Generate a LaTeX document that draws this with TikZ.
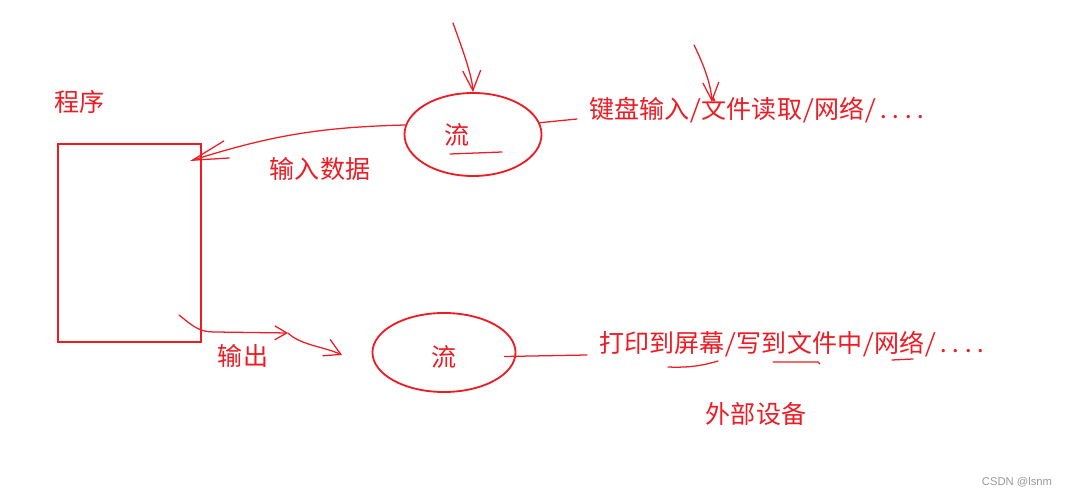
\documentclass[tikz,border=0pt]{standalone}
\usepackage{fontspec}
\newfontfamily\cjk[CharacterWidth=Half]{Noto Sans CJK SC}
\newfontfamily\markfont{Liberation Sans}
\usetikzlibrary{arrows.meta, positioning, shapes.geometric, calc}
\definecolor{pen}{RGB}{237,28,36}

\begin{document}
\begin{tikzpicture}[x=0.025cm, y=-0.025cm,
	% node styles
	box/.style={
		rectangle,
		draw=pen,
		line width=1.4pt,
		minimum width=3.575cm,
		minimum height=4.95cm,
		inner sep=0pt
	},
	flow/.style={
		ellipse,
		draw=pen,
		line width=1.3pt,
		inner sep=0pt
	},
	txt/.style={
		text=pen,
		font=\cjk\fontsize{17.8}{20}\selectfont,
		inner sep=0pt
	},
	% hand drawn lines
	hand/.style={
		draw=pen,
		line width=0.9pt,
		line cap=round
	}
	]
	\useasboundingbox (0,0) rectangle (1067,497);

	% program and streams
	\node[txt] (title) at (80,102) {程序};
	\node[box] (program) at (129.5,243) {};
	\node[flow, minimum width=3.425cm, minimum height=2.075cm] (inflow) at (473,134.5) {};
	\node[txt] (inchar) at (457,135) {流};
	\node[flow, minimum width=3.575cm, minimum height=1.975cm] (outflow) at (444,352.5) {};
	\node[txt] (outchar) at (444,357) {流};

	% labels
	\node[txt, anchor=west] (srcs) at (589,110) {键盘输入/文件读取/网络/....};
	\node[txt] (inlabel) at (320,169) {输入数据};
	\node[txt] (outlabel) at (243,356) {输出};
	\node[txt, anchor=west] (dests) at (599,344) {打印到屏幕/写到文件中/网络/....};
	\node[txt] (devices) at (756,414) {外部设备};
	\node[text=black!40, font=\markfont\fontsize{8}{9}\selectfont] (mark) at (1017,482) {CSDN @lsnm};

	% free ends
	\coordinate (inport) at (190,161);
	\coordinate (drop) at (453,23);
	\coordinate (srcdrop) at (694,45);
	\coordinate (srcmark) at (712,102);
	\coordinate (outport) at (179,315);
	\coordinate (outmid) at (288,333);
	\coordinate (outtip) at (342,355);

	% input side
	\draw[hand, -{Straight Barb[length=9mm, width=4.5mm]}] (inflow.172) to[bend right=8] (inport);
	\draw[hand] (inflow.10) -- ($(srcs.west)+(-12,9)$);
	\draw[hand, -{Straight Barb[length=5mm, width=4.5mm]}] (drop) .. controls (462,48) and (472,75) .. (inflow.north);
	\draw[hand, -{Straight Barb[length=4.5mm, width=4mm]}] (srcdrop) .. controls (704,65) and (711,85) .. (srcmark);

	% output side
	\draw[hand, -{Straight Barb[length=3mm, width=3.5mm]}] (outport) .. controls (195,328) and (200,332) .. (215,332) -- (outmid);
	\draw[hand, -{Straight Barb[length=4mm, width=4.5mm]}] (outmid) .. controls (300,345) and (325,347) .. (outtip);
	\draw[hand] ($(outflow.east)+(-12,4)$) -- ($(dests.west)+(-12,11)$);

	% underlines
	\draw[hand] (450,154) -- (502,152);
	\draw[hand] (668,367) .. controls (690,368) and (705,365) .. (718,361);
	\draw[hand] (773,362) -- (818,362) -- (820,364);
	\draw[hand] (892,360) -- (913,359);
\end{tikzpicture}
\end{document}
